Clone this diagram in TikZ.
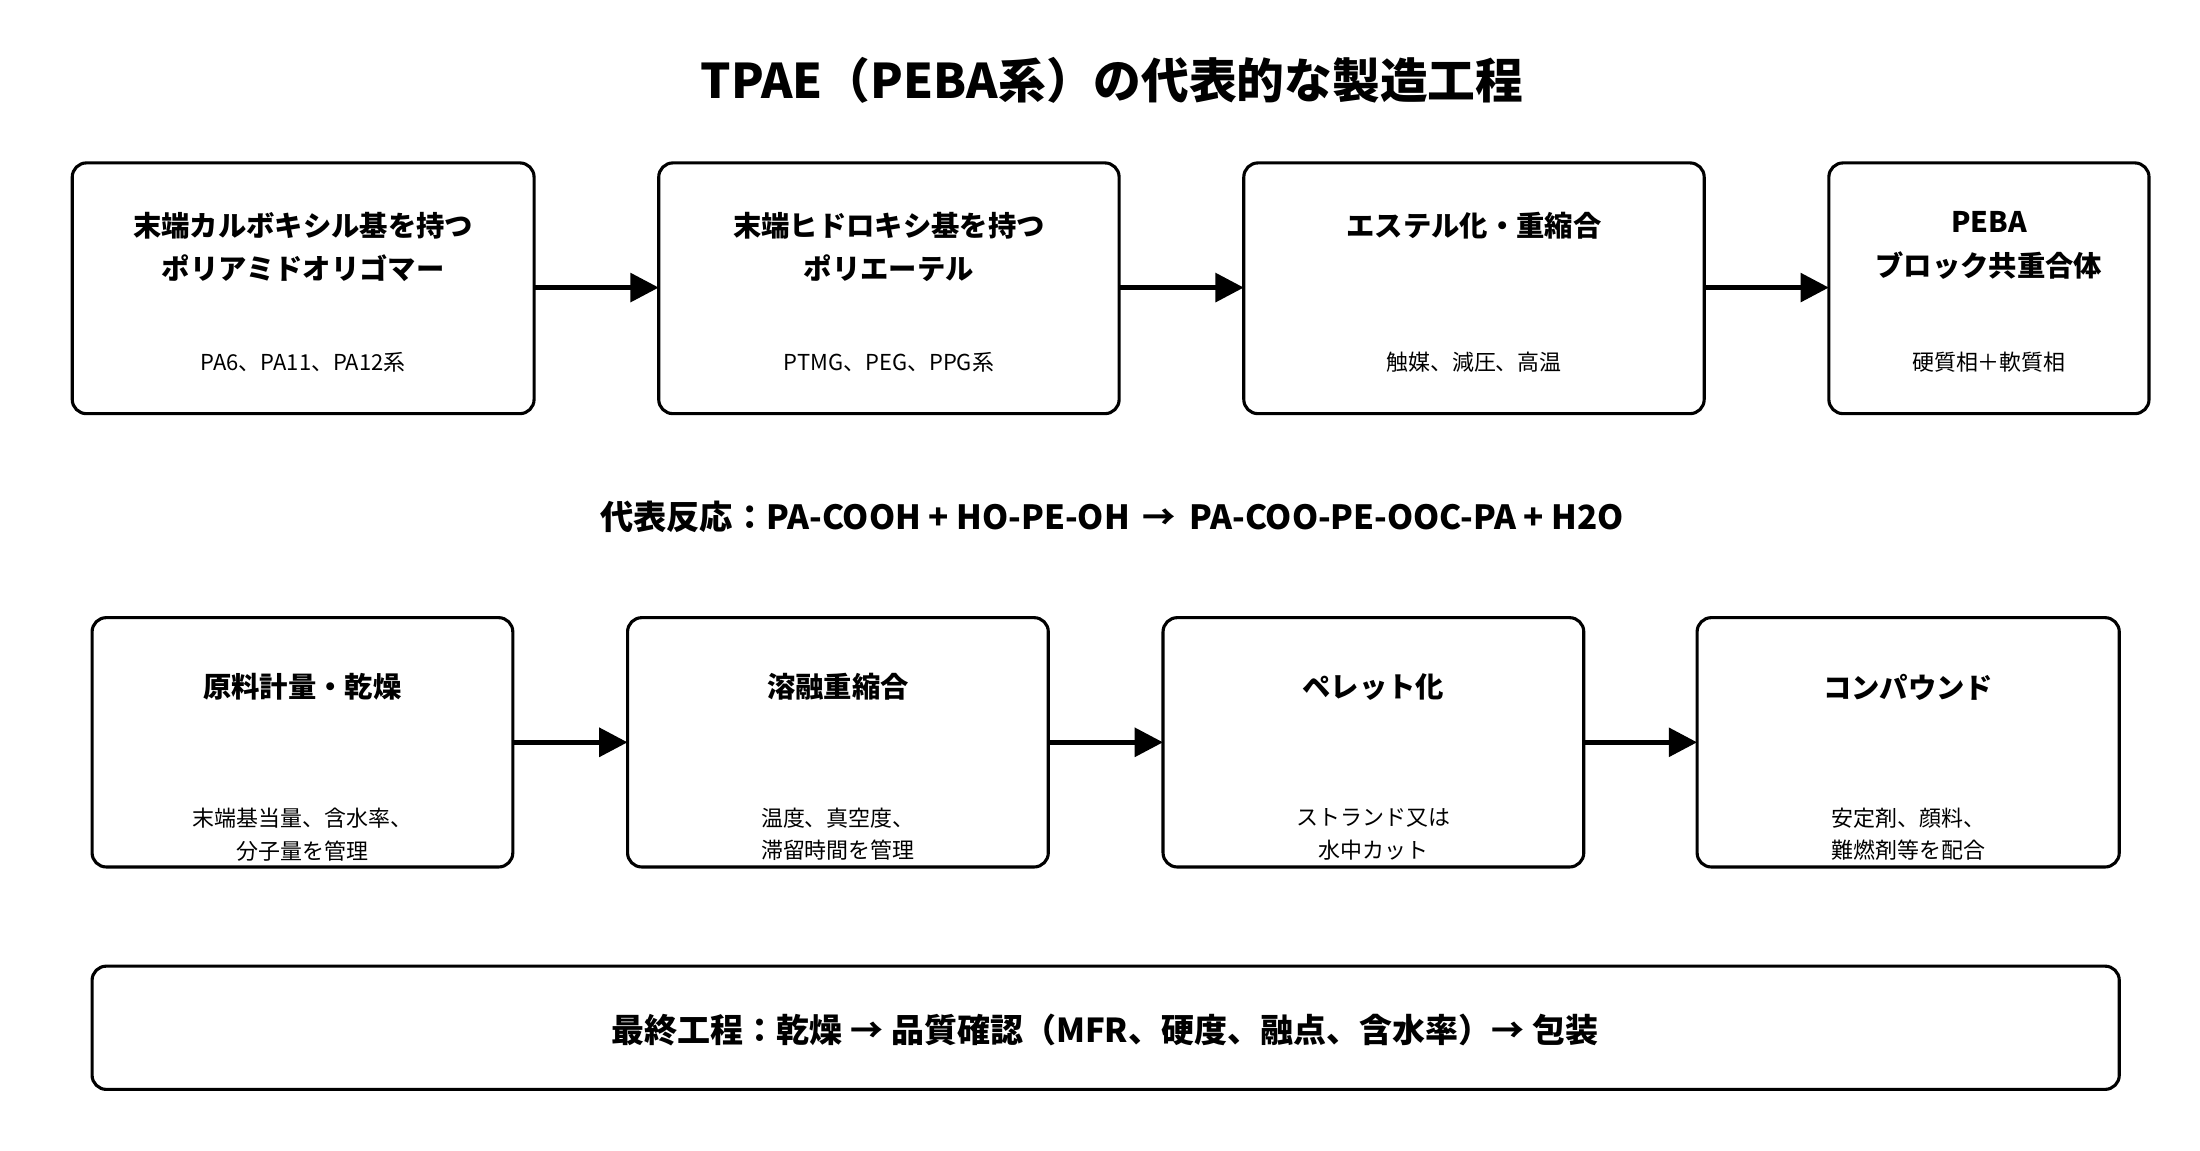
\documentclass[tikz,border=0pt]{standalone}
\usepackage{fontspec}
\setmainfont{Noto Sans CJK JP}
\usetikzlibrary{arrows.meta}
\begin{document}
\begin{tikzpicture}[x=1pt,y=-1pt,
 box/.style={draw,line width=2.2pt,rounded corners=10pt},
 ttl/.style={font=\fontsize{20}{31}\selectfont\bfseries,align=center},
 sub/.style={font=\fontsize{15.5}{23}\selectfont,align=center},
 arr/.style={line width=3.5pt,-{Triangle[length=20pt,width=20pt]}}]
\useasboundingbox (0,0) rectangle (1553,811.8);
\node[font=\fontsize{33.7}{40}\selectfont\bfseries] (title) at (785,57) {TPAE（PEBA系）の代表的な製造工程};
% row 1
\foreach \n/\a/\b/\t/\s in {a1/51/377/{末端カルボキシル基を持つ\\ポリアミドオリゴマー}/{PA6、PA11、PA12系},
 a2/465/790/{末端ヒドロキシ基を持つ\\ポリエーテル}/{PTMG、PEG、PPG系},
 a3/878/1203/{エステル化・重縮合}/{触媒、減圧、高温},
 a4/1291/1517/{PEBA\\ブロック共重合体}/{硬質相＋軟質相}}{
 \draw[box] (\a,115) rectangle (\b,292);
 \coordinate (\n-l) at (\a,203);
 \coordinate (\n-r) at (\b,203);
 \node[ttl,anchor=north] (\n-t) at ({(\a+\b)/2},146) {\t};
 \node[sub] (\n-s) at ({(\a+\b)/2},256) {\s};
}
\draw[arr] (a1-r) -- (a2-l);
\draw[arr] (a2-r) -- (a3-l);
\draw[arr] (a3-r) -- (a4-l);
\node[font=\fontsize{23.5}{28}\selectfont\bfseries] (rx) at (785,365) {代表反応：PA-COOH + HO-PE-OH \,→\, PA-COO-PE-OOC-PA + H2O};
% row 2
\foreach \n/\a/\b/\t/\s in {b1/65/362/{原料計量・乾燥}/{末端基当量、含水率、\\分子量を管理},
 b2/443/740/{溶融重縮合}/{温度、真空度、\\滞留時間を管理},
 b3/821/1118/{ペレット化}/{ストランド又は\\水中カット},
 b4/1198/1496/{コンパウンド}/{安定剤、顔料、\\難燃剤等を配合}}{
 \draw[box] (\a,436) rectangle (\b,612);
 \coordinate (\n-l) at (\a,524);
 \coordinate (\n-r) at (\b,524);
 \node[ttl] (\n-t) at ({(\a+\b)/2},485) {\t};
 \node[sub] (\n-s) at ({(\a+\b)/2},589) {\s};
}
\draw[arr] (b1-r) -- (b2-l);
\draw[arr] (b2-r) -- (b3-l);
\draw[arr] (b3-r) -- (b4-l);
\draw[box] (65,682) rectangle (1496,769);
\node[font=\fontsize{23.3}{28}\selectfont\bfseries] (fin) at (780,727) {最終工程：乾燥 → 品質確認（MFR、硬度、融点、含水率）→ 包装};
\end{tikzpicture}
\end{document}
